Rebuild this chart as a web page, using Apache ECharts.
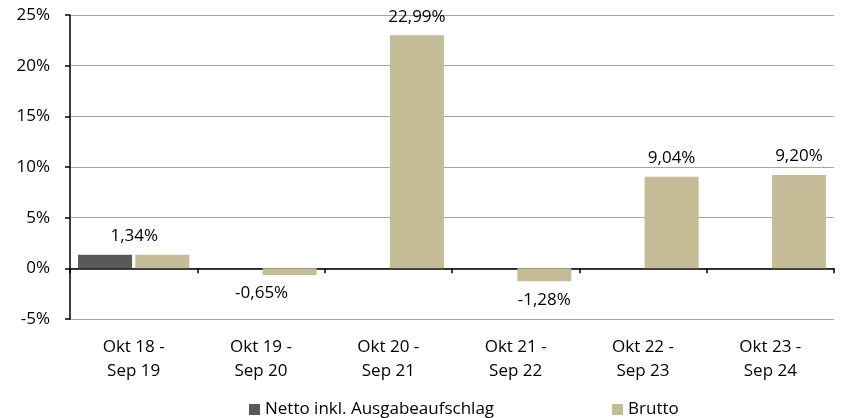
<!DOCTYPE html>
<html>
<head>
<meta charset="utf-8">
<script src="https://cdn.jsdelivr.net/npm/echarts@6/dist/echarts.min.js"></script>
<style>
html,body{margin:0;padding:0;background:#fff;}
#chart{width:842px;height:418px;}
</style>
</head>
<body>
<div id="chart"></div>
<script>
// Zeiträume
var categories = ['Okt 18 -\nSep 19', 'Okt 19 -\nSep 20', 'Okt 20 -\nSep 21', 'Okt 21 -\nSep 22', 'Okt 22 -\nSep 23', 'Okt 23 -\nSep 24'];
var netto = [1.34, null, null, null, null, null];
var brutto = [1.34, -0.65, 22.99, -1.28, 9.04, 9.20];
var yTicks = [-5, 0, 5, 10, 15, 20, 25];

var fontName = 'Open Sans';
var fs = 17;

function fmt(v) {
    return v.toFixed(2).replace('.', ',') + '%';
}

// Beschriftung: die ersten beiden sitzen in Excel mittig in der Kategorie
var bruttoData = brutto.map(function (v, i) {
    var item = {value: v};
    if (i < 2) {
        item.label = {offset: [-28, 0]};
    }
    return item;
});

var myChart = echarts.init(document.getElementById('chart'));

var option = {
    animation: false,
    textStyle: {fontFamily: fontName},
    grid: {left: 70, right: 8, top: 15, bottom: 99},
    legend: {
        data: ['Netto inkl. Ausgabeaufschlag', 'Brutto'],
        left: 244,
        top: 396,
        icon: 'rect',
        itemWidth: 11,
        itemHeight: 11,
        itemGap: 118,
        textStyle: {fontSize: fs, color: '#000', fontFamily: fontName}
    },
    xAxis: [
        {
            type: 'category',
            data: categories,
            axisLine: {onZero: true, lineStyle: {color: '#000', width: 1.5}},
            axisTick: {show: true, length: 5, lineStyle: {color: '#000', width: 1.5}},
            axisLabel: {show: false},
            splitLine: {show: false}
        },
        {
            type: 'category',
            data: categories,
            position: 'bottom',
            axisLine: {show: false, onZero: false},
            axisTick: {show: false},
            axisLabel: {
                fontSize: fs,
                color: '#000',
                lineHeight: 24,
                margin: 16,
                fontFamily: fontName
            },
            splitLine: {show: false}
        }
    ],
    yAxis: {
        type: 'value',
        min: yTicks[0],
        max: yTicks[yTicks.length - 1],
        interval: 5,
        axisLine: {show: true, lineStyle: {color: '#000', width: 1.5}},
        axisTick: {show: true, length: 5, lineStyle: {color: '#000', width: 1.5}},
        axisLabel: {
            fontSize: fs,
            color: '#000',
            margin: 20,
            fontFamily: fontName,
            formatter: function (v) { return v + '%'; }
        },
        splitLine: {show: true, lineStyle: {color: '#a6a6a6', width: 1}}
    },
    series: [
        {
            name: 'Netto inkl. Ausgabeaufschlag',
            type: 'bar',
            xAxisIndex: 0,
            data: netto,
            barWidth: 54,
            barGap: '6%',
            itemStyle: {color: '#595959'}
        },
        {
            name: 'Brutto',
            type: 'bar',
            xAxisIndex: 0,
            data: bruttoData,
            barWidth: 54,
            barGap: '6%',
            itemStyle: {color: '#c4bc96'},
            label: {
                show: true,
                position: 'outside',
                distance: 10,
                fontSize: fs,
                color: '#000',
                fontFamily: fontName,
                formatter: function (p) { return fmt(p.value); }
            }
        }
    ]
};
myChart.setOption(option);
</script>
</body>
</html>
